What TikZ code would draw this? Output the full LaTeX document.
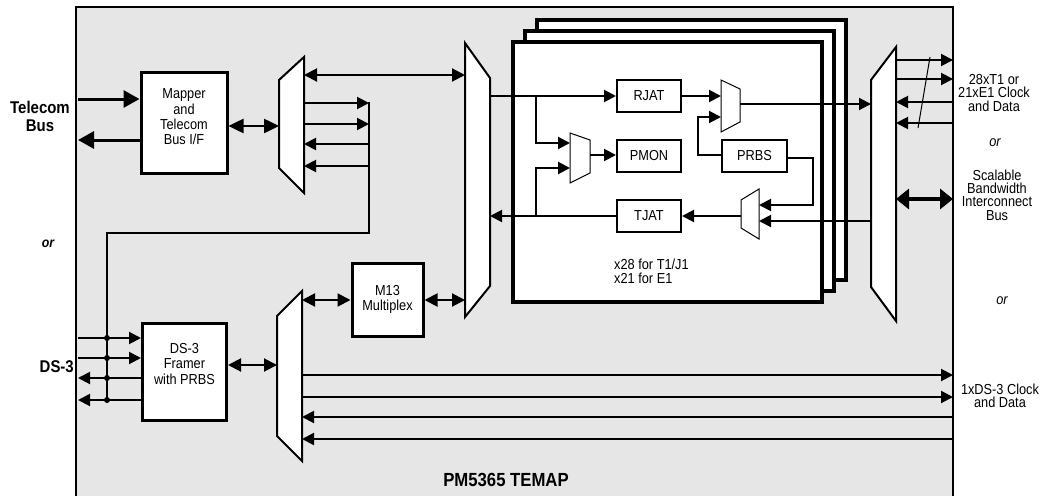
\documentclass[tikz,border=0pt]{standalone}
\usepackage{fontspec}
\setmainfont{Liberation Sans}[FakeStretch=0.88]
\usetikzlibrary{arrows.meta}
\definecolor{bg}{RGB}{230,230,230}
\newcommand{\nfont}{\fontsize{14.5}{15.3}\selectfont}
\newcommand{\tfont}{\fontsize{14.5}{13.3}\selectfont}
\newcommand{\bfnt}{\fontsize{17}{18}\selectfont\bfseries}
\begin{document}
\begin{tikzpicture}[x=1pt,y=-1pt,
  box/.style={draw,line width=3pt,fill=white,inner sep=0pt},
  ibox/.style={draw,line width=2pt,fill=white,inner sep=0pt,minimum width=64pt,minimum height=32pt,font=\nfont},
  mux/.style={draw,line width=2pt,fill=white,line join=miter},
  smux/.style={draw,line width=1pt,fill=white,line join=miter},
  ar/.style={line width=2pt,-{Triangle[length=12pt,width=12pt]}},
  dar/.style={line width=2pt,{Triangle[length=13pt,width=13pt]}-{Triangle[length=13pt,width=13pt]}},
  ln/.style={line width=2pt},
  txt/.style={font=\nfont,align=center,inner sep=0pt},
  rtxt/.style={font=\tfont,align=center,inner sep=0pt},
  btxt/.style={font=\bfnt,align=center,inner sep=0pt},
]
\useasboundingbox (0,0) rectangle (1040,495);
% chip outline
\fill[bg] (76,7) rectangle (953,505);
\draw[line width=2.5pt] (76,505) -- (76,7) -- (953,7) -- (953,505);

% stacked channel boxes
\draw[line width=3.5pt,fill=white] (537,20) rectangle (846,280);
\draw[line width=3.5pt,fill=white] (525,31) rectangle (834,291);
\node[box,line width=3.5pt,minimum width=309pt,minimum height=260pt] (ch) at (667.5,172) {};

% boxes
\node[box,minimum width=86pt,minimum height=101pt] (mapper) at (184,122.5) {};
\node[txt] at (184,117) {Mapper\\and\\Telecom\\Bus I/F};
\node[box,minimum width=84pt,minimum height=97pt] (ds3) at (184.5,371.5) {};
\node[txt] at (184.5,364) {DS-3\\Framer\\with PRBS};
\node[box,minimum width=71pt,minimum height=73pt,font=\nfont,align=center] (m13) at (387.5,299.5) {M13\\[-1pt]Multiplex};
\node[ibox] (rjat) at (649,95.5) {RJAT};
\node[ibox] (pmon) at (649,156) {PMON};
\node[ibox] (tjat) at (649,216) {TJAT};
\node[ibox,minimum width=65pt] (prbs) at (754.5,156) {PRBS};

% multiplexers
\draw[mux] (279,80) -- (304,57) -- (304,193) -- (279,168) -- cycle;
\draw[mux] (465,43) -- (490,78) -- (490,286) -- (465,317) -- cycle;
\draw[mux] (277,316) -- (302,291) -- (302,461) -- (277,436) -- cycle;
\draw[mux] (871,80) -- (896,47) -- (896,321) -- (871,287) -- cycle;
\draw[smux] (570,133) -- (590,140) -- (590,173) -- (570,183) -- cycle;
\draw[smux] (721,80) -- (740,89) -- (740,122) -- (721,132) -- cycle;
\draw[smux] (741,200) -- (759,189) -- (759,239) -- (741,228) -- cycle;
\coordinate (m1w) at (279,0);
\coordinate (m1e) at (304,0);
\coordinate (m2w) at (465,0);
\coordinate (m2e) at (490,0);
\coordinate (m3w) at (277,0);
\coordinate (m3e) at (302,0);
\coordinate (m4w) at (871,0);
\coordinate (m4e) at (896,0);
\coordinate (pw) at (570,0);
\coordinate (pe) at (590,0);
\coordinate (ow) at (721,0);
\coordinate (oe) at (740,0);
\coordinate (iw) at (741,0);
\coordinate (ie) at (759,0);
\coordinate (edge) at (953,0);
\coordinate (lft) at (78,0);

% telecom bus
\draw[line width=3pt,-{Triangle[length=16pt,width=17pt]}] (lft |- 0,99) -- (mapper.west |- 0,99);
\draw[line width=3pt,-{Triangle[length=16pt,width=17pt]}] (mapper.west |- 0,140) -- (lft |- 0,140);
\draw[line width=2.5pt,{Triangle[length=15pt,width=14pt]}-{Triangle[length=15pt,width=14pt]}] (mapper.east |- 0,126) -- (m1w |- 0,126);
\draw[dar] (m1e |- 0,75) -- (m2w |- 0,75);
\draw[ar] (m1e |- 0,103) -- (369,103);
\draw[ar] (m1e |- 0,124) -- (369,124);
\draw[ar] (369,144) -- (m1e |- 0,144);
\draw[ar] (369,166) -- (m1e |- 0,166);
\draw[ln] (369,102) -- (369,233) -- (107,233) -- (107,400);

% DS-3 side
\draw[ar] (lft |- 0,338) -- (ds3.west |- 0,338);
\draw[ar] (lft |- 0,358) -- (ds3.west |- 0,358);
\draw[ar] (ds3.west |- 0,378) -- (lft |- 0,378);
\draw[ar] (ds3.west |- 0,400) -- (lft |- 0,400);
\foreach \yy in {338,358,378,400} \fill (107,\yy) circle (3pt);
\draw[dar] (ds3.east |- 0,365) -- (m3w |- 0,365);
\draw[dar] (m3e |- 0,300) -- (m13.west |- 0,300);
\draw[dar] (m13.east |- 0,300) -- (m2w |- 0,300);

% 1xDS-3 lines
\draw[ar] (m3e |- 0,375) -- (edge |- 0,375);
\draw[ar] (m3e |- 0,397) -- (edge |- 0,397);
\draw[ar] (edge |- 0,417) -- (m3e |- 0,417);
\draw[ar] (edge |- 0,439) -- (m3e |- 0,439);

% channel internals
\draw[ar] (m2e |- 0,96) -- (rjat.west |- 0,96);
\draw[ar] (536,96) -- (536,143) -- (pw |- 0,143);
\draw[ar] (tjat.west |- 0,216) -- (m2e |- 0,216);
\draw[ar] (536,216) -- (536,168) -- (pw |- 0,168);
\draw[ar] (pe |- 0,155) -- (pmon.west |- 0,155);
\draw[ar] (rjat.east |- 0,96) -- (ow |- 0,96);
\draw[ar] (prbs.west |- 0,155) -- (698,155) -- (698,117) -- (ow |- 0,117);
\draw[ar] (oe |- 0,104) -- (m4w |- 0,104);
\draw[ar] (prbs.east |- 0,158) -- (813,158) -- (813,205) -- (ie |- 0,205);
\draw[ar] (m4w |- 0,221) -- (ie |- 0,221);
\draw[ar] (iw |- 0,216) -- (tjat.east |- 0,216);
\node[font=\fontsize{14.5}{14}\selectfont,align=left,anchor=west,inner sep=0pt] at (614,271) {x28 for T1/J1\\x21 for E1};

% right side
\draw[ar] (m4e |- 0,60) -- (edge |- 0,60);
\draw[ar] (m4e |- 0,79) -- (edge |- 0,79);
\draw[ar] (edge |- 0,102) -- (m4e |- 0,102);
\draw[ar] (edge |- 0,123) -- (m4e |- 0,123);
\draw[line width=1pt] (930,57) -- (918,128);
\draw[line width=3.5pt,{Triangle[length=13pt,width=20pt]}-{Triangle[length=13pt,width=20pt]}] (m4e |- 0,199) -- (edge |- 0,199);

% labels
\node[btxt] at (40,116) {Telecom\\Bus};
\node[font=\fontsize{14}{14}\selectfont\bfseries\itshape,inner sep=0pt] at (48,244) {or};
\node[btxt,anchor=east] at (74,367) {DS-3};
\node[rtxt] at (994,93) {28xT1 or\\21xE1 Clock\\and Data};
\node[font=\tfont\itshape,inner sep=0pt] at (995,143) {or};
\node[rtxt] at (997,195) {Scalable\\Bandwidth\\Interconnect\\Bus};
\node[font=\tfont\itshape,inner sep=0pt] at (1002,301) {or};
\node[rtxt] at (1000,396) {1xDS-3 Clock\\and Data};
\node[font=\fontsize{19}{20}\selectfont\bfseries,inner sep=0pt] at (506,480) {PM5365 TEMAP};
\end{tikzpicture}
\end{document}
